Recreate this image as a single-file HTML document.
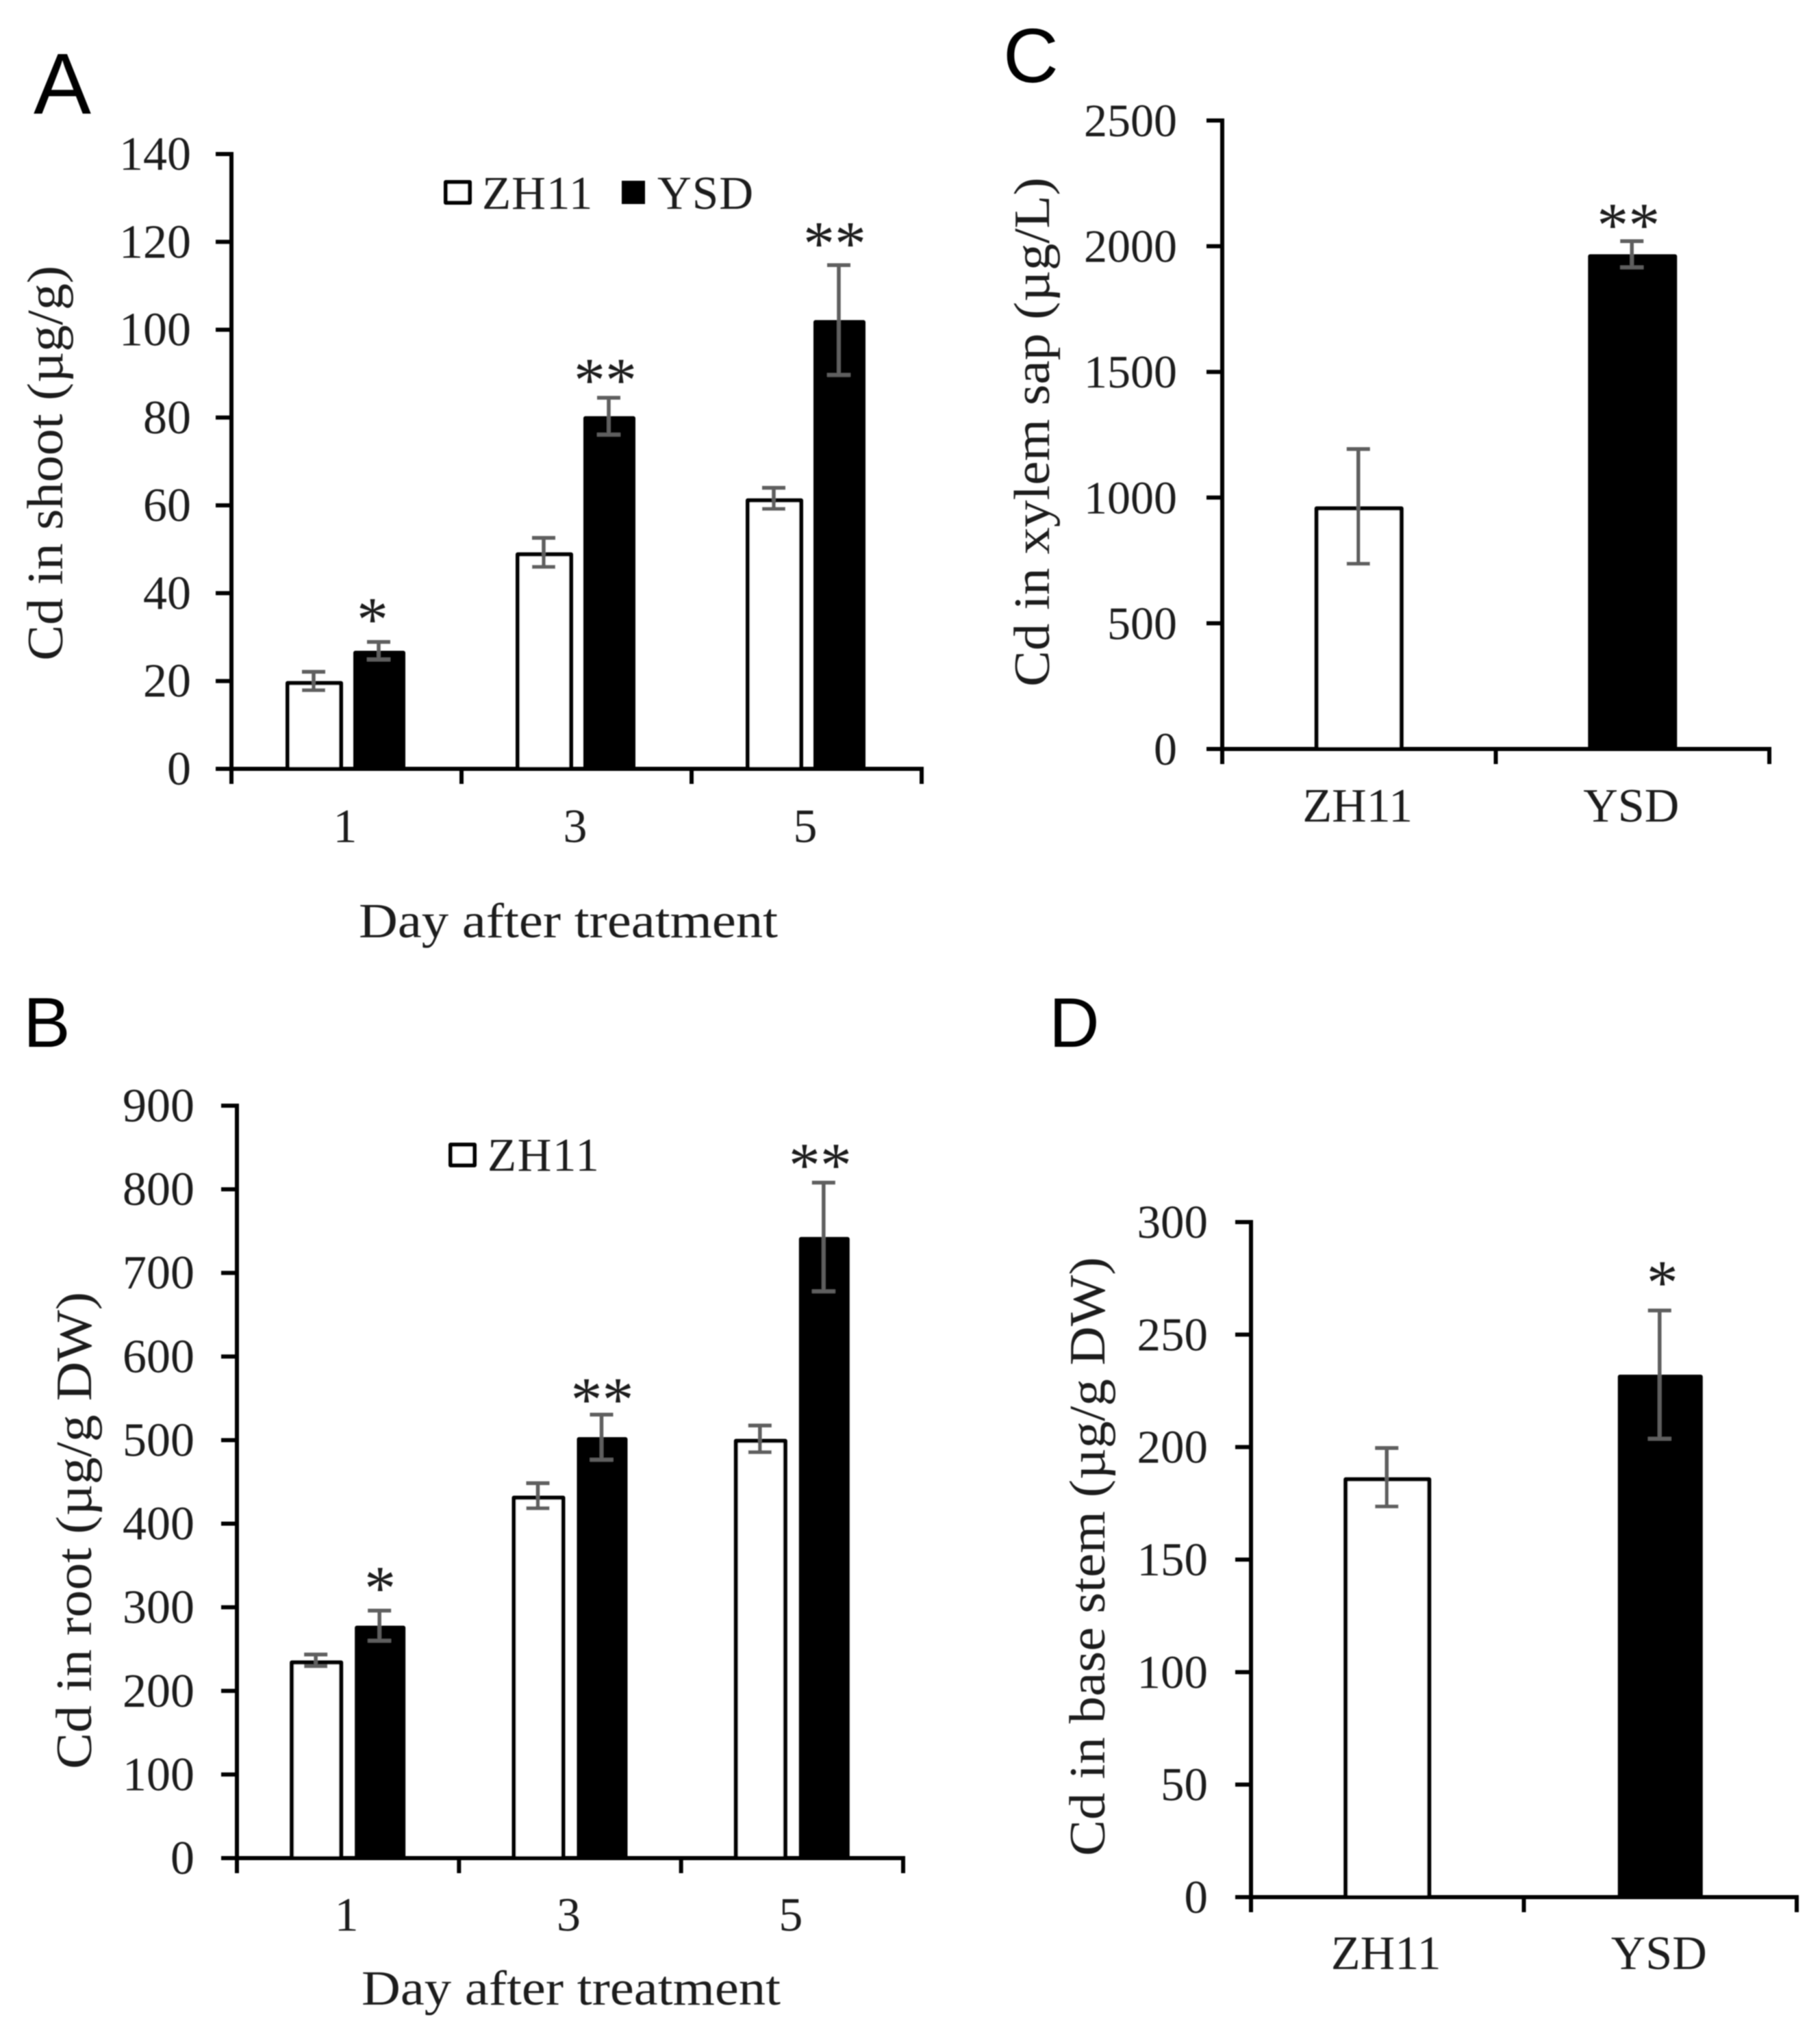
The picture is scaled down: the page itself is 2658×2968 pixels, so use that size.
<!DOCTYPE html>
<html lang="en">
<head>
<meta charset="utf-8">
<title>Cd content in rice tissues</title>
<style>
html,body{margin:0;padding:0;background:#fff;}
svg{display:block;}
text{font-family:"Liberation Serif",serif;fill:#1a1a1a;}
.letter{font-family:"Liberation Sans",sans-serif;fill:#000;}
</style>
</head>
<body>
<svg id="fig" xmlns="http://www.w3.org/2000/svg" width="2658" height="2968" viewBox="0 0 2658 2968">
<defs><filter id="soft" x="-2%" y="-2%" width="104%" height="104%"><feGaussianBlur stdDeviation="0.8"/></filter></defs>
<rect width="2658" height="2968" fill="#fff"/>
<g id="root" filter="url(#soft)">
  <text class="letter" x="49" y="166" font-size="126">A</text>
  <text class="letter" x="34" y="1529" font-size="103">B</text>
  <text class="letter" x="1465" y="120" font-size="112">C</text>
  <text class="letter" x="1532" y="1529" font-size="102">D</text>

  <text transform="translate(91,965) rotate(-90)" font-size="74" textLength="577" lengthAdjust="spacingAndGlyphs">Cd in shoot (µg/g)</text>
  <text transform="translate(133,2584) rotate(-90)" font-size="74" textLength="697" lengthAdjust="spacingAndGlyphs">Cd in root (µg/g DW)</text>
  <text transform="translate(1532,1003) rotate(-90)" font-size="74" textLength="744" lengthAdjust="spacingAndGlyphs">Cd in xylem sap (µg/L)</text>
  <text transform="translate(1613,2711) rotate(-90)" font-size="74" textLength="875" lengthAdjust="spacingAndGlyphs">Cd in base stem (µg/g DW)</text>

  <text x="524" y="1369" font-size="72" textLength="612" lengthAdjust="spacingAndGlyphs">Day after treatment</text>
  <text x="528" y="2928" font-size="72" textLength="612" lengthAdjust="spacingAndGlyphs">Day after treatment</text>

  <g>
    <rect x="651" y="266" width="35" height="30" fill="#fff" stroke="#000" stroke-width="6" stroke-linejoin="round"/>
    <text x="704" y="305" font-size="69" letter-spacing="1">ZH11</text>
    <rect x="908" y="264" width="34" height="34" fill="#000"/>
    <text x="960" y="305" font-size="69" letter-spacing="1">YSD</text>
  </g>
  <g>
    <rect x="658" y="1672" width="35" height="30" fill="#fff" stroke="#000" stroke-width="6" stroke-linejoin="round"/>
    <text x="712" y="1710" font-size="69" letter-spacing="1.5">ZH11</text>
  </g>
  <g id="charts"></g>
</g>
</svg>
<script>
// Panel A: Cd in shoot
const categoriesA = ['1', '3', '5'];
const zh11ValuesA = [20, 49.3, 61.6];
const zh11ErrorsA = [2.1, 3.3, 2.4];
const ysdValuesA = [26.9, 80.3, 102.2];
const ysdErrorsA = [2, 4.2, 12.5];
const starsA = ['*', '**', '**'];
const ticksA = [0, 20, 40, 60, 80, 100, 120, 140];

// Panel B: Cd in root
const categoriesB = ['1', '3', '5'];
const zh11ValuesB = [236.5, 433.5, 501.5];
const zh11ErrorsB = [7, 15, 16];
const ysdValuesB = [278, 503.5, 743];
const ysdErrorsB = [18, 27, 65];
const starsB = ['*', '**', '**'];
const ticksB = [0, 100, 200, 300, 400, 500, 600, 700, 800, 900];

// Panel C: Cd in xylem sap
const categoriesC = ['ZH11', 'YSD'];
const zh11ValuesC = [965];
const zh11ErrorsC = [228];
const ysdValuesC = [1968];
const ysdErrorsC = [52];
const starsC = ['**'];
const ticksC = [0, 500, 1000, 1500, 2000, 2500];

// Panel D: Cd in base stem
const categoriesD = ['ZH11', 'YSD'];
const zh11ValuesD = [186.6];
const zh11ErrorsD = [13];
const ysdValuesD = [232.2];
const ysdErrorsD = [28.5];
const starsD = ['*'];
const ticksD = [0, 50, 100, 150, 200, 250, 300];

const NS = 'http://www.w3.org/2000/svg';
const chartsLayer = document.getElementById('charts');

function make(parent, tag, attrs, content) {
  const el = document.createElementNS(NS, tag);
  for (const k in attrs) el.setAttribute(k, attrs[k]);
  if (content !== undefined) el.textContent = content;
  parent.appendChild(el);
  return el;
}

function drawPanel(p) {
  const xAxis = i => p.x0 + (p.x1 - p.x0) * i / p.bands;
  const yAxis = v => p.y0 - (p.y0 - p.yTop) * v / p.yMax;
  const g = make(chartsLayer, 'g', {});
  
  

  function bar(cx, w, value, fill, name) {
    const top = yAxis(value);
    const r = make(g, 'rect', {
      x: cx - w / 2 + 3, y: top + 3, width: w - 6, height: p.y0 - top - 3,
      fill: fill, stroke: '#000', 'stroke-width': 6, 'stroke-linejoin': 'round'
    });
    
    
  }
  function errorBar(cx, value, err, name) {
    const hi = yAxis(value + err), lo = yAxis(value - err);
    const e = make(g, 'path', {
      d: 'M' + (cx - p.cap) + ' ' + hi + 'H' + (cx + p.cap) +
         'M' + cx + ' ' + hi + 'V' + lo +
         'M' + (cx - p.cap) + ' ' + lo + 'H' + (cx + p.cap),
      fill: 'none', stroke: '#5f5f5f', 'stroke-width': 5.5
    });
    
    
  }

  p.zh11.forEach((v, i) => {
    const band = (xAxis(i) + xAxis(i + 1)) / 2;
    bar(band + p.zhOffset, p.zhWidth, v, '#fff', 'bar-zh11-' + p.id + '-' + i);
    errorBar(band + p.zhOffset - 1, v, p.zhErr[i], 'error-bar-zh11-' + p.id + '-' + i);
  });
  p.ysd.forEach((v, i) => {
    const idx = p.grouped ? i : 1;
    const band = (xAxis(idx) + xAxis(idx + 1)) / 2;
    const cx = band + p.ysdOffset;
    bar(cx, p.ysdWidth, v, '#000', 'bar-ysd-' + p.id + '-' + i);
    errorBar(cx - 1, v, p.ysdErr[i], 'error-bar-ysd-' + p.id + '-' + i);
    const s = make(g, 'text', {
      x: cx + p.starDx[i], y: yAxis(v + p.ysdErr[i]) - p.starGap[i] + 43,
      'font-size': 92, 'text-anchor': 'middle', fill: '#111'
    }, p.stars[i]);
    
    
  });

  const yLine = make(g, 'line', { x1: p.x0, y1: p.yTop - 3, x2: p.x0, y2: p.y0 + 22, stroke: '#000', 'stroke-width': 6 });
  
  
  const xLine = make(g, 'line', { x1: p.x0 - 23, y1: p.y0, x2: p.x1 + 3, y2: p.y0, stroke: '#000', 'stroke-width': 6 });
  
  

  p.ticks.forEach(t => {
    const y = yAxis(t);
    const tick = make(g, 'line', { x1: p.x0 - 23, y1: y, x2: p.x0, y2: y, stroke: '#000', 'stroke-width': 6 });
    
    
    const label = make(g, 'text', { x: p.labelX, y: y + 23, 'font-size': p.tickFont, 'text-anchor': 'end' }, t);
    
    
  });
  for (let i = 0; i <= p.bands; i++) {
    const tick = make(g, 'line', { x1: xAxis(i), y1: p.y0, x2: xAxis(i), y2: p.y0 + 22, stroke: '#000', 'stroke-width': 6 });
    
    
  }
  p.categories.forEach((c, i) => {
    const label = make(g, 'text', {
      x: (xAxis(i) + xAxis(i + 1)) / 2 - 2, y: p.catY, 'font-size': 70, 'text-anchor': 'middle'
    }, c);
    
    
  });
}

drawPanel({ id: 'a', grouped: true, bands: categoriesA.length, x0: 338, x1: 1346, y0: 1123, yTop: 225, yMax: 140,
  ticks: ticksA, categories: categoriesA, zh11: zh11ValuesA, zhErr: zh11ErrorsA, ysd: ysdValuesA, ysdErr: ysdErrorsA, stars: starsA,
  zhOffset: -47, ysdOffset: 48, zhWidth: 84, ysdWidth: 76, cap: 17, starGap: [45, 38, 44], starDx: [-10, -6, -7], labelX: 279, tickFont: 70, catY: 1230 });
drawPanel({ id: 'b', grouped: true, bands: categoriesB.length, x0: 346, x1: 1319, y0: 2714, yTop: 1615, yMax: 900,
  ticks: ticksB, categories: categoriesB, zh11: zh11ValuesB, zhErr: zh11ErrorsB, ysd: ysdValuesB, ysdErr: ysdErrorsB, stars: starsB,
  zhOffset: -46, ysdOffset: 47, zhWidth: 78, ysdWidth: 74, cap: 17, starGap: [45, 34, 38], starDx: [0, 0, -6], labelX: 284, tickFont: 70, catY: 2820 });
drawPanel({ id: 'c', grouped: false, bands: categoriesC.length, x0: 1785, x1: 2584, y0: 1094, yTop: 176, yMax: 2500,
  ticks: ticksC, categories: categoriesC, zh11: zh11ValuesC, zhErr: zh11ErrorsC, ysd: ysdValuesC, ysdErr: ysdErrorsC, stars: starsC,
  zhOffset: 0, ysdOffset: 0, zhWidth: 130, ysdWidth: 130, cap: 17, starGap: [36], starDx: [-6], labelX: 1719, tickFont: 68, catY: 1200 });
drawPanel({ id: 'd', grouped: false, bands: categoriesD.length, x0: 1827, x1: 2624, y0: 2771, yTop: 1785, yMax: 300,
  ticks: ticksD, categories: categoriesD, zh11: zh11ValuesD, zhErr: zh11ErrorsD, ysd: ysdValuesD, ysdErr: ysdErrorsD, stars: starsD,
  zhOffset: 0, ysdOffset: 0, zhWidth: 128, ysdWidth: 124, cap: 17, starGap: [53], starDx: [3], labelX: 1764, tickFont: 69, catY: 2876 });
</script>
</body>
</html>
